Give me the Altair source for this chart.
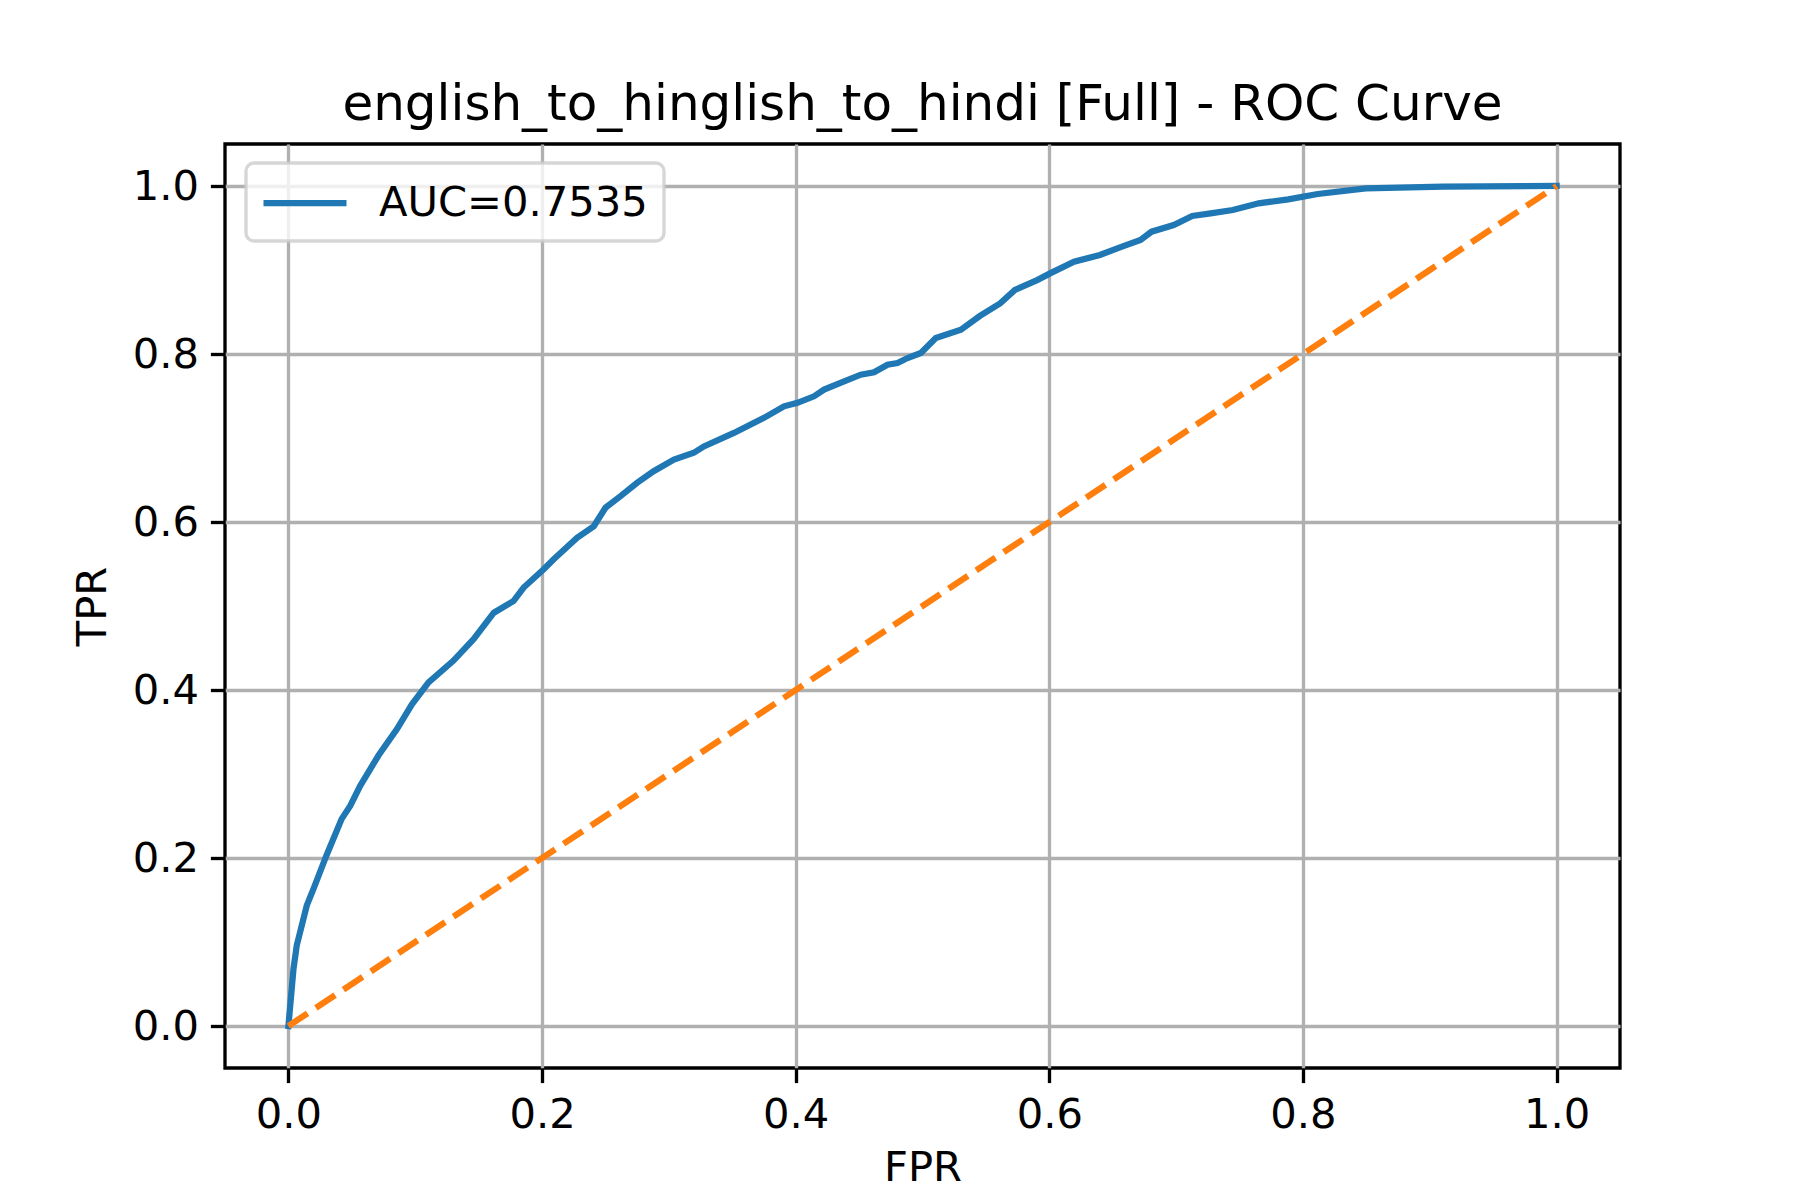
import altair as alt
import pandas as pd

# ROC curve points
fpr = [0.0, 0.004, 0.0066, 0.0145, 0.0197, 0.030, 0.042, 0.0487, 0.0566, 0.071,
       0.0856, 0.0974, 0.1105, 0.130, 0.146, 0.162, 0.1776, 0.1855, 0.2013, 0.2092,
       0.2277, 0.2408, 0.250, 0.2619, 0.275, 0.288, 0.304, 0.3197, 0.3276, 0.3513,
       0.375, 0.3908, 0.4014, 0.4145, 0.4224, 0.4382, 0.4513, 0.4618, 0.4724, 0.4803,
       0.4882, 0.4987, 0.5105, 0.5303, 0.545, 0.5613, 0.5729, 0.5904, 0.6006, 0.6195,
       0.6399, 0.6573, 0.6719, 0.6806, 0.6981, 0.7127, 0.7272, 0.7447, 0.7651, 0.7884,
       0.8117, 0.8495, 0.9106, 1.0]
tpr = [0.0, 0.068, 0.096, 0.1436, 0.163, 0.203, 0.2466, 0.262, 0.286, 0.322,
       0.3535, 0.383, 0.409, 0.4347, 0.4605, 0.492, 0.506, 0.522, 0.5437, 0.5556,
       0.5813, 0.595, 0.617, 0.6308, 0.6467, 0.6605, 0.6744, 0.6824, 0.690, 0.706,
       0.724, 0.7377, 0.7418, 0.7496, 0.7576, 0.7675, 0.7754, 0.7782, 0.7873, 0.7893,
       0.7952, 0.8012, 0.819, 0.8289, 0.845, 0.8603, 0.8762, 0.888, 0.896, 0.910,
       0.9179, 0.9278, 0.9357, 0.9456, 0.9536, 0.9643, 0.9675, 0.9714, 0.9794, 0.9841,
       0.9905, 0.9972, 0.9992, 1.0]
series_label = "AUC=0.7535"

diag_x = [0.0, 1.0]
diag_y = [0.0, 1.0]

tick_values = [0.0, 0.2, 0.4, 0.6, 0.8, 1.0]
title_text = "english_to_hinglish_to_hindi [Full] - ROC Curve"

roc_df = pd.DataFrame({"FPR": fpr, "TPR": tpr, "series": [series_label] * len(fpr)})
roc_df["order"] = range(len(roc_df))
diag_df = pd.DataFrame({"FPR": diag_x, "TPR": diag_y})

FONT = "DejaVu Sans"

xscale = alt.Scale(domain=[-0.05, 1.05], nice=False, zero=False)
yscale = alt.Scale(domain=[-0.05, 1.05], nice=False, zero=False)
xaxis = alt.Axis(title="FPR", values=tick_values, format=".1f", labelFlush=False)
yaxis = alt.Axis(title="TPR", values=tick_values, format=".1f", labelFlush=False)

roc = alt.Chart(roc_df).mark_line(strokeWidth=6.25, strokeCap="square").encode(
    x=alt.X("FPR:Q", scale=xscale, axis=xaxis),
    y=alt.Y("TPR:Q", scale=yscale, axis=yaxis),
    order="order:Q",
    color=alt.Color(
        "series:N",
        scale=alt.Scale(domain=[series_label], range=["#1f77b4"]),
        legend=alt.Legend(title=None, orient="none", legendX=21, legendY=19),
    ),
)

diag = alt.Chart(diag_df).mark_line(
    strokeWidth=6.25, color="#ff7f0e", strokeDash=[23, 10]
).encode(
    x=alt.X("FPR:Q", scale=xscale),
    y=alt.Y("TPR:Q", scale=yscale),
)

chart = (
    alt.layer(roc, diag)
    .properties(
        width=1395,
        height=924,
        title=alt.TitleParams(
            text=title_text, fontSize=50, font=FONT, fontWeight="normal",
            color="black", anchor="middle", baseline="alphabetic",
            frame="group", offset=-26,
        ),
        autosize=alt.AutoSizeParams(type="none"),
        padding={"left": 217, "top": 136, "right": 172, "bottom": 124},
        background="white",
    )
    .configure_view(stroke="black", strokeWidth=3.33)
    .configure_axis(
        domain=False,
        grid=True,
        gridColor="#b0b0b0",
        gridWidth=3.33,
        ticks=True,
        tickColor="black",
        tickWidth=3.33,
        tickSize=14.6,
        labelFont=FONT,
        labelFontSize=41.67,
        labelColor="black",
        labelPadding=12,
        titleFont=FONT,
        titleFontSize=41.67,
        titleFontWeight="normal",
        titleColor="black",
    )
    .configure_axisX(titlePadding=11)
    .configure_axisY(titlePadding=18)
    .configure_legend(
        padding=16,
        symbolOffset=19,
        fillColor="rgba(255,255,255,0.8)",
        strokeColor="rgba(204,204,204,0.8)",
        strokeWidth=3.33,
        cornerRadius=8,
        symbolType="M-2,0H2",
        symbolSize=1722,
        symbolStrokeWidth=6.25,
        labelFont=FONT,
        labelFontSize=41.67,
        labelColor="black",
        labelOffset=50,
        labelLimit=0,
    )
)

chart.save("out.html", embed_options={"renderer": "svg", "actions": False})
